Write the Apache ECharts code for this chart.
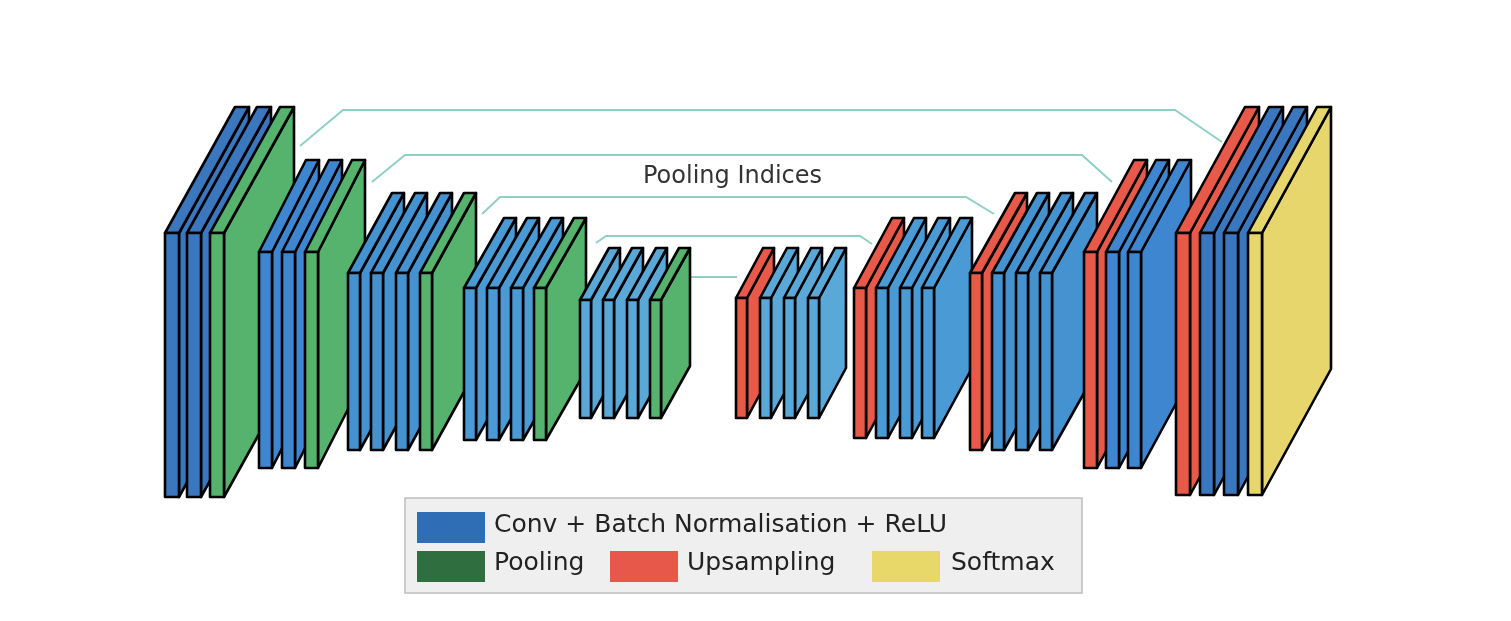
<!DOCTYPE html>
<html><head><meta charset="utf-8">
<script src="https://cdn.jsdelivr.net/npm/echarts@6/dist/echarts.min.js"></script>
<style>html,body{margin:0;padding:0;background:#fff}#c{width:1511px;height:621px}</style>
</head><body><div id="c"></div>
<script>
// Blocks of the SegNet diagram (encoder 1-5, decoder 1-5)
const blockSlabX = [[165,187,210],[259,282,305],[348,371,396,420],[464,487,511,534],[580,603,627,650],
  [736,760,784,808],[854,876,900,922],[970,992,1016,1040],[1084,1106,1128],[1176,1200,1224,1248]];
const blockSlabKind = [['conv','conv','pool'],['conv','conv','pool'],['conv','conv','conv','pool'],['conv','conv','conv','pool'],['conv','conv','conv','pool'],
  ['up','conv','conv','conv'],['up','conv','conv','conv'],['up','conv','conv','conv'],['up','conv','conv'],['up','conv','conv','soft']];
const blockTop = [233,252,273,288,300,298,288,273,252,233];
const blockBottom = [497,468,450,440,418,418,438,450,468,495];
const blockBackTop = [107,160,193,218,248,248,218,193,160,107];
const blockDx = [70,47,44,40,29,27,38,45,50,69];
const blockThick = [14,13,12,12,11,11,12,12,13,14];
const blockBlue = ['#3a77bf','#3f86d1','#4592d0','#4a9bd5','#5aa8d8','#5aa8d8','#4a9bd5','#4592d0','#3f86d1','#3a77bf'];
const kindColor = {pool:'#55b36d', up:'#e8594a', soft:'#e6d66c'};
// Pooling-index connections
const arrowPaths = [
  [[300,146],[343,110],[1175,110],[1222,142]],
  [[372,182],[405,155],[1082,155],[1112,182]],
  [[482,214],[500,197],[966,197],[994,214]],
  [[596,243],[606,236],[860,236],[872,244]],
  [[690,277],[737,277]]
];
const legendItems = [
  {name:'Conv + Batch Normalisation + ReLU', color:'#2f6db5'},
  {name:'Pooling', color:'#2f6e3e'},
  {name:'Upsampling', color:'#e8584a'},
  {name:'Softmax', color:'#e8d86a'}
];

const slabData = [];
blockSlabX.forEach((xs, b) => xs.forEach((x, i) => {
  const k = blockSlabKind[b][i];
  slabData.push([x, blockTop[b], blockBottom[b], blockBackTop[b], blockDx[b], blockThick[b], k === 'conv' ? blockBlue[b] : kindColor[k]]);
}));

const chart = echarts.init(document.getElementById('c'));
const stroke = {stroke:'#000', lineWidth:2.6, lineJoin:'round'};
chart.setOption({
  animation:false,
  grid:{left:0,right:0,top:0,bottom:0},
  xAxis:{type:'value',min:0,max:1511,show:false},
  yAxis:{type:'value',min:0,max:621,inverse:true,show:false},
  series:[
    {type:'lines', coordinateSystem:'cartesian2d', polyline:true, z:1,
     symbol:['none','arrow'], symbolSize:9,
     lineStyle:{color:'#8fcfc4', width:2, opacity:1},
     data: arrowPaths.map(p => ({coords:p}))},
    {type:'custom', z:2, data: slabData,
     renderItem(params, api){
       const x=api.value(0), top=api.value(1), bot=api.value(2), back=api.value(3), dx=api.value(4), t=api.value(5);
       const col = slabData[params.dataIndex][6];
       const h = bot-top, dy = top-back;
       const P = (a,b) => api.coord([a,b]);
       const side = [P(x+t,top),P(x+t+dx,back),P(x+t+dx,back+h),P(x+t,bot)];
       const tp = [P(x,top),P(x+dx,back),P(x+t+dx,back),P(x+t,top)];
       const fr = [P(x,top),P(x+t,top),P(x+t,bot),P(x,bot)];
       return {type:'group', children:[
         {type:'polygon', shape:{points:side}, style:Object.assign({fill:col},stroke)},
         {type:'polygon', shape:{points:tp}, style:Object.assign({fill:col},stroke)},
         {type:'polygon', shape:{points:fr}, style:Object.assign({fill:col},stroke)}
       ]};
     }}
  ],
  graphic:[
    {type:'text', left:643, top:165, z:10, style:{text:'Pooling Indices', fill:'#333', font:'24px "DejaVu Sans"'}},
    {type:'rect', shape:{x:405,y:498,width:677,height:95}, z:10, style:{fill:'#efefef', stroke:'#bdbdbd', lineWidth:1.5}},
    {type:'rect', shape:{x:417,y:512,width:68,height:31}, z:11, style:{fill:legendItems[0].color}},
    {type:'text', x:494, y:513, z:11, style:{text:legendItems[0].name, fill:'#222', font:'25px "DejaVu Sans"'}},
    {type:'rect', shape:{x:417,y:551,width:68,height:31}, z:11, style:{fill:legendItems[1].color}},
    {type:'text', x:494, y:551, z:11, style:{text:legendItems[1].name, fill:'#222', font:'25px "DejaVu Sans"'}},
    {type:'rect', shape:{x:610,y:551,width:68,height:31}, z:11, style:{fill:legendItems[2].color}},
    {type:'text', x:687, y:551, z:11, style:{text:legendItems[2].name, fill:'#222', font:'25px "DejaVu Sans"'}},
    {type:'rect', shape:{x:872,y:551,width:68,height:31}, z:11, style:{fill:legendItems[3].color}},
    {type:'text', x:951, y:551, z:11, style:{text:legendItems[3].name, fill:'#222', font:'25px "DejaVu Sans"'}}
  ]
});
</script></body></html>
